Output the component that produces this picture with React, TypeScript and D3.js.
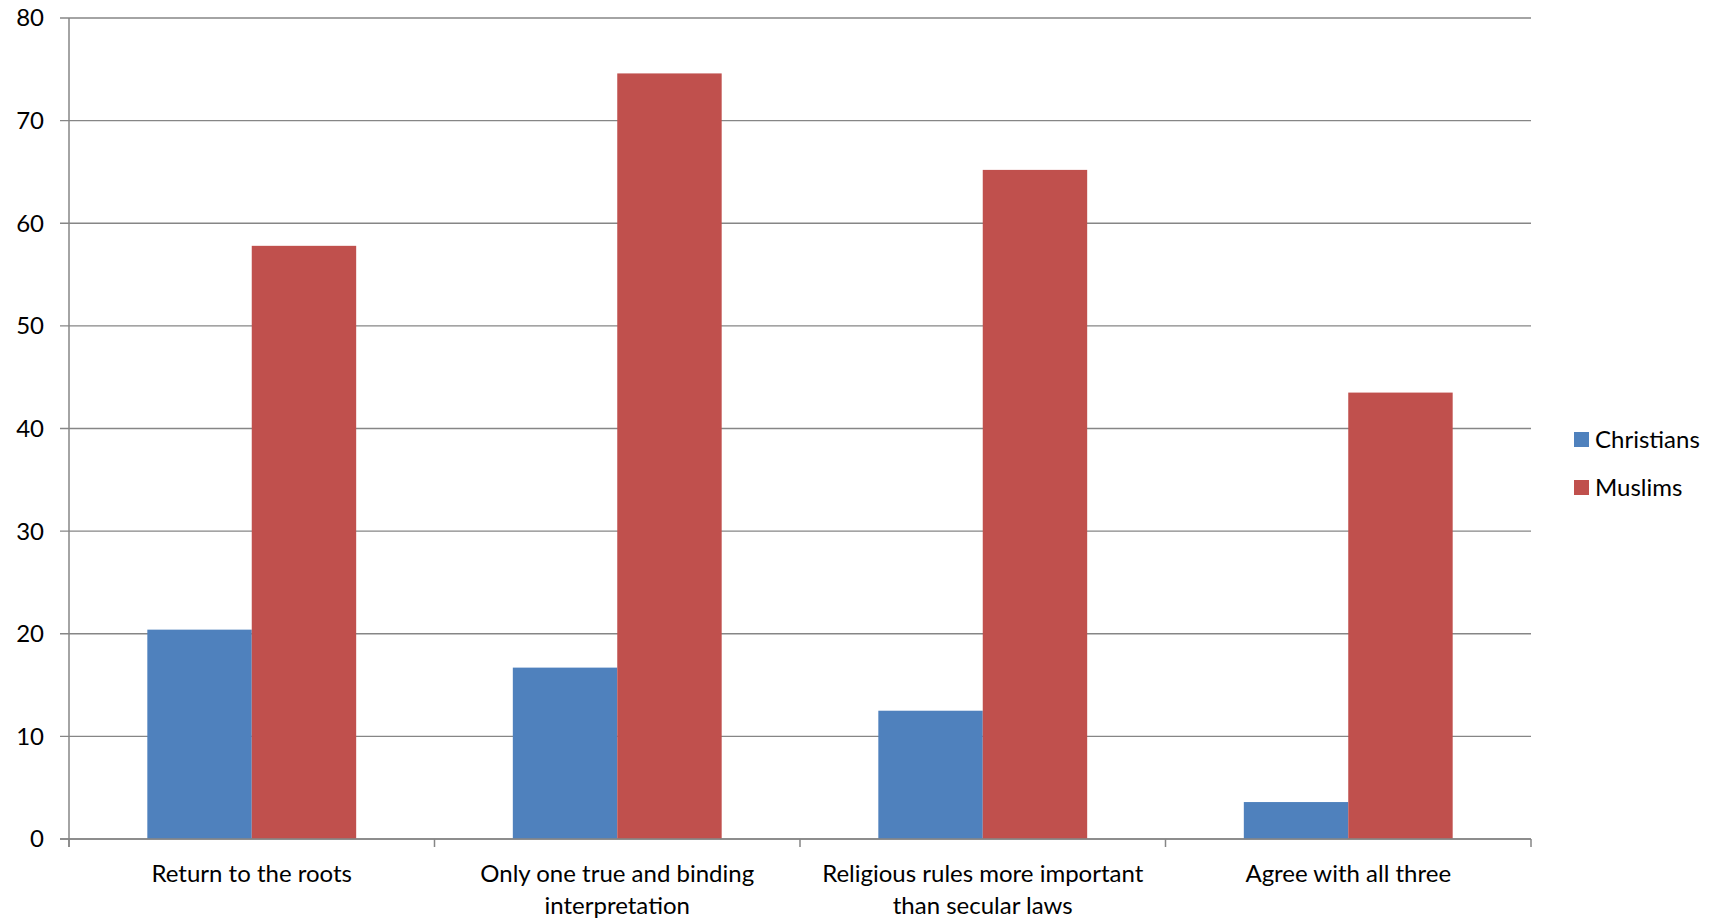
import React, { useEffect, useRef } from "react";
import * as d3 from "d3";

const categories = [
  "Return to the roots",
  "Only one true and binding\ninterpretation",
  "Religious rules more important\nthan secular laws",
  "Agree with all three",
];
const seriesNames = ["Christians", "Muslims"];
const christians = [20.4, 16.7, 12.5, 3.6];
const muslims = [57.8, 74.6, 65.2, 43.5];
const seriesColors = ["#4F81BD", "#C0504D"];
const yTicks = [0, 10, 20, 30, 40, 50, 60, 70, 80];

const W = 1713;
const H = 920;
const FONT = "Lato, 'Open Sans', sans-serif";

export default function App() {
  const ref = useRef<SVGSVGElement | null>(null);

  useEffect(() => {
    const svg = d3.select(ref.current);
    svg.selectAll("*").remove();

    const left = 69, right = 1531, top = 18, bottom = 839;
    const x0 = d3.scaleBand<number>().domain(d3.range(categories.length)).range([left, right]).paddingInner(0).paddingOuter(0);
    const x1 = d3.scaleBand<string>().domain(seriesNames).range([0, x0.bandwidth()]).paddingInner(0).paddingOuter(0.75);
    const y = d3.scaleLinear().domain([0, 80]).range([bottom, top]);
    const gridColor = "#868686";

    const g = svg.append("g");
    g.selectAll("line.grid")
      .data(yTicks)
      .enter()
      .append("line")
      .attr("x1", left - 9)
      .attr("x2", right)
      .attr("y1", (d) => y(d))
      .attr("y2", (d) => y(d))
      .attr("stroke", gridColor)
      .attr("stroke-width", 1.3);

    g.selectAll("text.ytick")
      .data(yTicks)
      .enter()
      .append("text")
      .attr("x", 44)
      .attr("y", (d) => y(d))
      .attr("dy", "0.35em")
      .attr("text-anchor", "end")
      .attr("font-family", FONT)
      .attr("font-size", 24)
      .attr("fill", "#000")
      .text((d) => String(d));

    const data = [christians, muslims];
    seriesNames.forEach((s, si) => {
      g.selectAll(`rect.s${si}`)
        .data(data[si])
        .enter()
        .append("rect")
        .attr("x", (_, i) => (x0(i) as number) + (x1(s) as number))
        .attr("width", x1.bandwidth())
        .attr("y", (d) => y(d))
        .attr("height", (d) => y(0) - y(d))
        .attr("fill", seriesColors[si]);
    });

    g.append("line")
      .attr("x1", left).attr("x2", left)
      .attr("y1", top).attr("y2", bottom + 8)
      .attr("stroke", gridColor).attr("stroke-width", 1.5);
    g.append("line")
      .attr("x1", left - 9).attr("x2", right)
      .attr("y1", bottom).attr("y2", bottom)
      .attr("stroke", gridColor).attr("stroke-width", 1.5);
    const bounds = d3.range(categories.length + 1).map((i) => left + i * x0.step());
    g.selectAll("line.xtick")
      .data(bounds)
      .enter()
      .append("line")
      .attr("x1", (d) => d).attr("x2", (d) => d)
      .attr("y1", bottom).attr("y2", bottom + 8)
      .attr("stroke", gridColor).attr("stroke-width", 1.5);

    categories.forEach((c, i) => {
      const cx = (x0(i) as number) + x0.bandwidth() / 2;
      const lines = c.split("\n");
      const t = g.append("text")
        .attr("text-anchor", "middle")
        .attr("font-family", FONT)
        .attr("font-size", 24)
        .attr("fill", "#000");
      lines.forEach((ln, li) => {
        t.append("tspan").attr("x", cx).attr("y", 882 + li * 32).text(ln);
      });
    });

    seriesNames.forEach((s, si) => {
      const ly = 432 + si * 48;
      g.append("rect").attr("x", 1574).attr("y", ly).attr("width", 15).attr("height", 15).attr("fill", seriesColors[si]);
      g.append("text")
        .attr("x", 1595)
        .attr("y", ly + 16)
        .attr("font-family", FONT)
        .attr("font-size", 24)
        .attr("fill", "#000")
        .text(s);
    });
  }, []);

  return (
    <svg
      ref={ref}
      width={W}
      height={H}
      style={{ position: "absolute", left: 0, top: 0, background: "#fff" }}
    />
  );
}
